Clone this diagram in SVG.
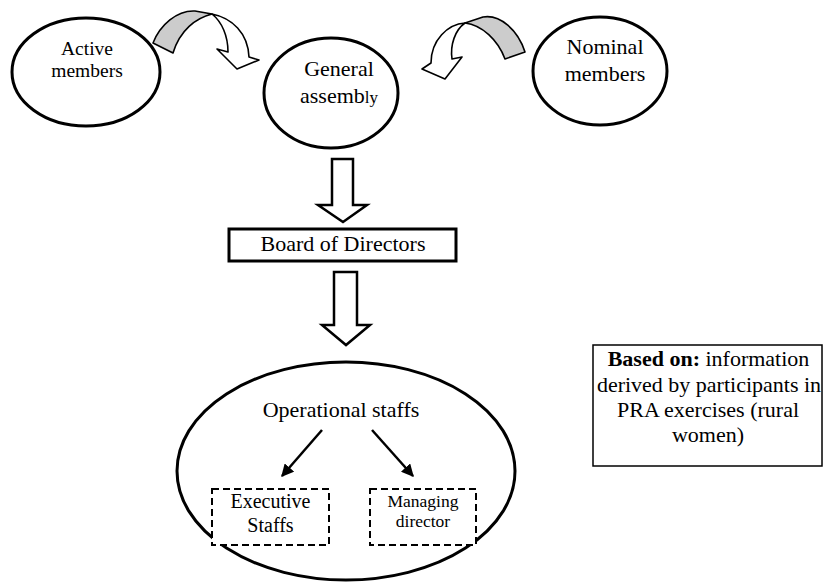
<svg xmlns="http://www.w3.org/2000/svg" width="824" height="585" viewBox="0 0 824 585">
<defs>
<style>
.node{fill:#fff;stroke:#000;stroke-width:3}
text{font-family:'Liberation Serif','Times New Roman',serif;fill:#000;text-anchor:middle}
.blk{fill:#fff;stroke:#000;stroke-width:2.5;stroke-linejoin:miter}
.cv{stroke:#000;stroke-width:1.6;stroke-linejoin:round}
.dash{fill:#fff;stroke:#000;stroke-width:2;stroke-dasharray:7,4}
.ln{stroke:#000;stroke-width:2.5;fill:none}
</style>
<marker id="ah" viewBox="0 0 10 10" refX="9" refY="5" markerWidth="5" markerHeight="5" orient="auto" markerUnits="strokeWidth">
<path d="M0,0 L10,5 L0,10 Z" fill="#000"/>
</marker>
</defs>
<rect width="824" height="585" fill="#fff"/>

<g id="active">
<ellipse class="node" cx="86" cy="72" rx="74" ry="54"/>
<text x="87" y="55" font-size="19.5">Active</text>
<text x="87" y="77" font-size="19.5">members</text>
</g>

<g id="general">
<ellipse class="node" cx="331" cy="93" rx="67" ry="55"/>
<text x="339" y="76" font-size="22">General</text>
<text x="339" y="103" font-size="22">assemb<tspan font-size="17">ly</tspan></text>
</g>

<g id="nominal">
<ellipse class="node" cx="600" cy="71" rx="67" ry="54"/>
<text x="605" y="54" font-size="22">Nominal</text>
<text x="605" y="81" font-size="22">members</text>
</g>

<g id="board">
<rect class="node" x="229" y="229" width="227" height="32" stroke-width="2.5"/>
<text x="343" y="251" font-size="22">Board of Directors</text>
</g>

<g id="operational">
<ellipse class="node" cx="346" cy="471" rx="169" ry="109"/>
<text x="341" y="417" font-size="22">Operational staffs</text>
</g>

<g id="executive">
<rect class="dash" x="212" y="489" width="117" height="56"/>
<text x="270.5" y="508" font-size="20">Executive</text>
<text x="270.5" y="532" font-size="20">Staffs</text>
</g>

<g id="managing">
<rect class="dash" x="370" y="489" width="106" height="56"/>
<text x="423" y="507" font-size="17.5">Managing</text>
<text x="423" y="527" font-size="17.5">director</text>
</g>

<g id="note">
<rect x="593" y="345" width="229" height="121" fill="#fff" stroke="#000" stroke-width="1.5"/>
<text x="708.5" y="366" font-size="22"><tspan font-weight="bold">Based on:</tspan> information</text>
<text x="709" y="392" font-size="22">derived by participants in</text>
<text x="708" y="417" font-size="22">PRA exercises (rural</text>
<text x="708" y="442" font-size="22">women)</text>
</g>

<g id="connectors">
<path class="cv" fill="#ccc" d="M153,43 C160,25 177,10 195,11 L212,14 C196,18 180,30 173,53 Z"/>
<path class="cv" fill="#fff" d="M212,14 C232,18 248,33 249,57 L259,60 L237,69 L217,49 L228,52 C228,36 222,22 212,14 Z"/>
<path class="cv" fill="#ccc" d="M525,52 C518,30 500,14 483,17 L465,23 C482,25 498,40 505,59 Z"/>
<path class="cv" fill="#fff" d="M465,23 C448,24 431,40 431,63 L422,69 L445,79 L462,57 L452,59 C450,45 455,30 465,23 Z"/>
<path class="blk" d="M332,159 L353,159 L353,205 L367,205 L343,222 L318,205 L332,205 Z"/>
<path class="blk" d="M334,272 L357,272 L357,325 L370,325 L346,345 L322,325 L334,325 Z"/>
<line class="ln" x1="322" y1="430" x2="282" y2="476" marker-end="url(#ah)"/>
<line class="ln" x1="372" y1="430" x2="413" y2="476" marker-end="url(#ah)"/>
</g>
</svg>
